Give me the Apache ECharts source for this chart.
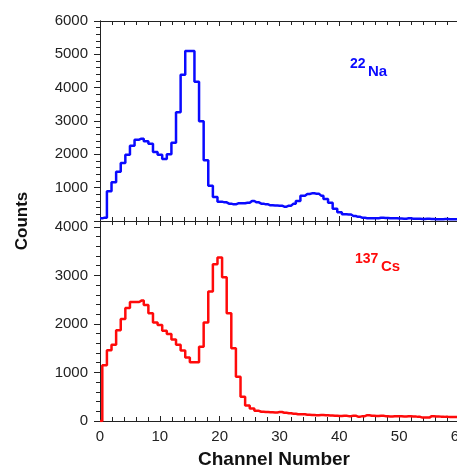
<!DOCTYPE html>
<html>
<head>
<meta charset="utf-8">
<script src="https://cdn.jsdelivr.net/npm/echarts@6/dist/echarts.min.js"></script>
<style>
  html, body { margin: 0; padding: 0; background: #fff; }
  #container { width: 457px; height: 467px; }
</style>
</head>
<body>
<div id="container"></div>
<script>
var dom = document.getElementById("container");
var myChart = echarts.init(dom);

// bin centres (channel number)
var channels = [0, 0.77, 1.54, 2.31, 3.08, 3.85, 4.62, 5.39, 6.16, 6.93,
  7.7, 8.47, 9.24, 10.01, 10.78, 11.55, 12.32, 13.09, 13.86, 14.63,
  15.4, 16.17, 16.94, 17.71, 18.48, 19.25, 20.02, 20.79, 21.56, 22.33,
  23.1, 23.87, 24.64, 25.41, 26.18, 26.95, 27.72, 28.49, 29.26, 30.03,
  30.8, 31.57, 32.34, 33.11, 33.88, 34.65, 35.42, 36.19, 36.96, 37.73,
  38.5, 39.27, 40.04, 40.81, 41.58, 42.35, 43.12, 43.89, 44.66, 45.43,
  46.2, 46.97, 47.74, 48.51, 49.28, 50.05, 50.82, 51.59, 52.36, 53.13,
  53.9, 54.67, 55.44, 56.21, 56.98, 57.75, 58.52, 59.29, 60.06];

var na22Counts = [80, 100, 890, 1160, 1480, 1740, 1990, 2260, 2440, 2470,
  2390, 2320, 2070, 1990, 1860, 2000, 2350, 3260, 4390, 5100,
  5100, 4180, 2990, 1820, 1060, 720, 580, 560, 520, 500,
  530, 530, 545, 600, 560, 520, 500, 470, 465, 460,
  430, 460, 520, 600, 760, 810, 830, 820, 760, 660,
  545, 370, 265, 200, 195, 150, 125, 95, 85, 80,
  80, 95, 90, 80, 80, 75, 70, 80, 70, 65,
  60, 65, 60, 55, 55, 60, 55, 50, 50];

var cs137Counts = [0, 1150, 1460, 1570, 1870, 2100, 2330, 2450, 2450, 2480,
  2390, 2220, 2030, 1980, 1860, 1790, 1680, 1570, 1450, 1310,
  1210, 1210, 1530, 2030, 2670, 3230, 3370, 2960, 2220, 1500,
  910, 500, 320, 260, 210, 190, 185, 180, 175, 185,
  170, 160, 150, 140, 140, 130, 125, 120, 125, 120,
  115, 110, 105, 110, 100, 110, 90, 100, 120, 110,
  105, 110, 100, 95, 100, 100, 95, 100, 95, 85,
  70, 70, 100, 95, 90, 85, 80, 80, 80];

var xTicks = [0, 60, 10];         // min, max, step
var naTicks = [0, 6000, 1000];
var csTicks = [0, 4120, 1000];

function pairs(xs, ys) {
    return xs.map(function (x, i) { return [x, ys[i]]; });
}

var font = 'Liberation Sans, Arial, sans-serif';
var axisColor = '#222';

function xAxisCfg(grid, pos, labels) {
    return {
        type: 'value', gridIndex: grid, position: pos,
        min: xTicks[0], max: xTicks[1], interval: xTicks[2],
        axisLine: { show: true, onZero: false, lineStyle: { color: axisColor, width: 1 } },
        axisTick: { show: true, inside: true, length: 5, lineStyle: { color: axisColor } },
        minorTick: { show: true, splitNumber: 5, length: 4, lineStyle: { color: axisColor } },
        axisLabel: { show: labels, margin: 8, fontSize: 15, color: axisColor, fontFamily: font },
        splitLine: { show: false }
    };
}

function yAxisCfg(grid, pos, ticks, labels) {
    return {
        type: 'value', gridIndex: grid, position: pos,
        min: ticks[0], max: ticks[1], interval: ticks[2],
        axisLine: { show: true, lineStyle: { color: axisColor, width: 1 } },
        axisTick: { show: true, inside: !labels, length: labels ? 4 : 6, lineStyle: { color: axisColor } },
        minorTick: { show: true, splitNumber: 5, length: labels ? 2 : 4, lineStyle: { color: axisColor } },
        axisLabel: {
            show: labels, margin: 12, fontSize: 15, color: axisColor, fontFamily: font,
            formatter: function (v) {
                if (v === 0 && grid === 0) return '';
                return v % 1000 === 0 ? String(v) : '';
            }
        },
        splitLine: { show: false }
    };
}

var option = {
    animation: false,
    grid: [
        { left: 100, top: 21, height: 200, width: 359, outerBoundsMode: 'none', containLabel: false },
        { left: 100, top: 221, height: 200, width: 359, outerBoundsMode: 'none', containLabel: false }
    ],
    xAxis: [
        xAxisCfg(0, 'bottom', false),
        xAxisCfg(0, 'top', false),
        xAxisCfg(1, 'bottom', true),
        xAxisCfg(1, 'top', false)
    ],
    yAxis: [
        yAxisCfg(0, 'left', naTicks, true),
        yAxisCfg(0, 'right', naTicks, false),
        yAxisCfg(1, 'left', csTicks, true),
        yAxisCfg(1, 'right', csTicks, false)
    ],
    series: [
        {
            name: '22Na', type: 'line', step: 'middle',
            xAxisIndex: 0, yAxisIndex: 0,
            data: pairs(channels, na22Counts),
            showSymbol: false,
            lineStyle: { color: '#0a0aff', width: 2.5 }
        },
        {
            name: '137Cs', type: 'line', step: 'middle',
            xAxisIndex: 2, yAxisIndex: 2,
            data: pairs(channels, cs137Counts),
            showSymbol: false,
            lineStyle: { color: '#ff0a0a', width: 2.5 }
        }
    ],
    graphic: [
        { type: 'text', left: 350, top: 57, style: { text: '22', fill: '#0a0aff', font: 'bold 14px ' + font } },
        { type: 'text', left: 368, top: 64, style: { text: 'Na', fill: '#0a0aff', font: 'bold 15px ' + font } },
        { type: 'text', left: 355, top: 252, style: { text: '137', fill: '#ff0a0a', font: 'bold 14px ' + font } },
        { type: 'text', left: 381, top: 259, style: { text: 'Cs', fill: '#ff0a0a', font: 'bold 15px ' + font } },
        {
            type: 'text', x: 22, y: 221, rotation: Math.PI / 2,
            style: { text: 'Counts', fill: '#111', font: 'bold 17px ' + font, align: 'center', verticalAlign: 'middle' }
        },
        {
            type: 'text', x: 274, y: 460,
            style: { text: 'Channel Number', fill: '#111', font: 'bold 19px ' + font, align: 'center', verticalAlign: 'middle' }
        }
    ]
};

myChart.setOption(option);
</script>
</body>
</html>
